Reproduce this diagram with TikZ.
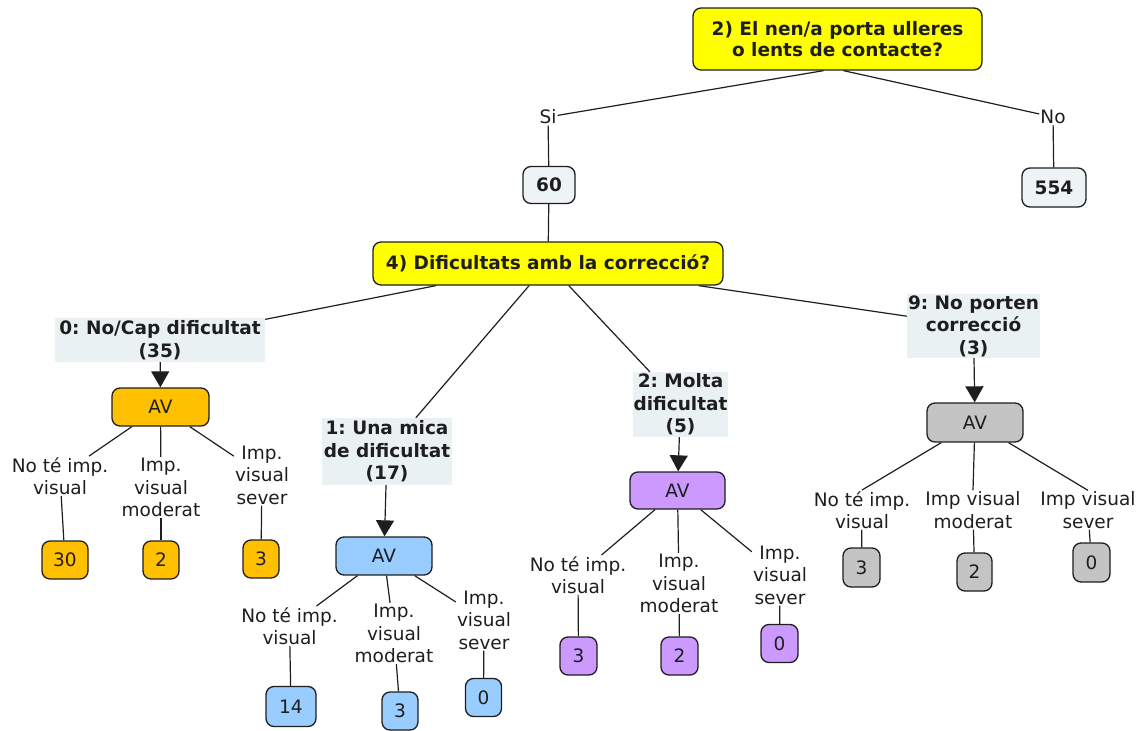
\documentclass[tikz,border=0pt]{standalone}
\usepackage{fontspec}
\setmainfont{DejaVu Sans}
\usetikzlibrary{arrows.meta}
\frenchspacing

\definecolor{qyellow}{HTML}{FFFF00}
\definecolor{cntfill}{HTML}{EEF3F6}
\definecolor{lblfill}{HTML}{EAF1F3}
\definecolor{avorange}{HTML}{FFC000}
\definecolor{avblue}{HTML}{99CCFF}
\definecolor{avpurple}{HTML}{CC99FF}
\definecolor{avgray}{HTML}{C4C4C4}
\definecolor{ink}{HTML}{1E1E1E}

\begin{document}
\begin{tikzpicture}[x=1pt, y=-1pt,
  every node/.style={font=\fontsize{18.5}{22.5}\selectfont, text=ink},
  box/.style={draw=ink, line width=1.3pt, rounded corners=8pt, inner sep=0pt, align=center},
  question/.style={box, fill=qyellow, font=\fontsize{18.5}{21.5}\selectfont\bfseries},
  countbox/.style={box, fill=cntfill, font=\fontsize{18.5}{22.5}\selectfont\bfseries},
  catlabel/.style={fill=lblfill, inner sep=0pt, align=center, font=\fontsize{18.5}{22.5}\selectfont\bfseries},
  avbox/.style={box, minimum width=96pt, minimum height=38pt},
  numbox/.style={box, minimum width=36pt, minimum height=38pt},
  txt/.style={inner sep=1pt, align=center},
  link/.style={draw=ink, line width=1.2pt},
  arr/.style={link, -{Triangle[length=16pt, width=18pt]}}
]
\useasboundingbox (0,0) rectangle (1144,731);

% questions and totals
\node[question, minimum width=289pt, minimum height=62pt] (q2) at (837.5,39) {2) El nen/a porta ulleres\\o lents de contacte?};
\node[txt] (si) at (548,117) {Si};
\node[txt] (no) at (1053,117) {No};
\node[countbox, minimum width=52pt, minimum height=37pt] (n60) at (549,185) {60};
\node[countbox, minimum width=64pt, minimum height=39pt] (n554) at (1054,187.5) {554};
\node[question, minimum width=350pt, minimum height=43pt] (q4) at (548,263.5) {4) Dificultats amb la correcció?};

% answer categories
\node[catlabel, minimum width=210pt, minimum height=44pt] (l0) at (160,340) {0: No/Cap dificultat\\(35)};
\node[catlabel, minimum width=130pt, minimum height=67pt] (l1) at (387,451.5) {1: Una mica\\de dificultat\\(17)};
\node[catlabel, minimum width=95pt, minimum height=65pt] (l2) at (680.5,404.5) {2: Molta\\dificultat\\(5)};
\node[catlabel, minimum width=133pt, minimum height=64pt] (l9) at (973.5,326) {9: No porten\\correcció\\(3)};

% AV boxes
\node[avbox, fill=avorange, minimum width=97pt] (av0) at (160.5,407) {AV};
\node[avbox, fill=avblue] (av1) at (384,556) {AV};
\node[avbox, fill=avpurple, minimum width=95pt, minimum height=37pt] (av2) at (677.5,490.5) {AV};
\node[avbox, fill=avgray, minimum height=39pt] (av9) at (975,422.5) {AV};

% visual impairment labels
\node[txt] (oa) at (60,476) {No té imp.\\visual};
\node[txt] (ob) at (161,487.5) {Imp.\\visual\\moderat};
\node[txt] (oc) at (262,475) {Imp.\\visual\\sever};
\node[txt] (ba) at (289.5,626) {No té imp.\\visual};
\node[txt] (bb) at (394,633.5) {Imp.\\visual\\moderat};
\node[txt] (bc) at (484,620) {Imp.\\visual\\sever};
\node[txt] (pa) at (578,575) {No té imp.\\visual};
\node[txt] (pb) at (679,583.5) {Imp.\\visual\\moderat};
\node[txt] (pc) at (780,575) {Imp.\\visual\\sever};
\node[txt] (ga) at (862,510) {No té imp.\\visual};
\node[txt] (gb) at (973,510) {Imp visual\\moderat};
\node[txt] (gc) at (1088,510) {Imp visual\\sever};

% counts
\node[numbox, fill=avorange, minimum width=46pt] (on1) at (65,560) {30};
\node[numbox, fill=avorange] (on2) at (161,560) {2};
\node[numbox, fill=avorange] (on3) at (261,559) {3};
\node[numbox, fill=avblue, minimum width=50pt, minimum height=40pt] (bn1) at (291,706.5) {14};
\node[numbox, fill=avblue] (bn2) at (400,711) {3};
\node[numbox, fill=avblue] (bn3) at (483.5,697.5) {0};
\node[numbox, fill=avpurple, minimum width=37pt] (pn1) at (578.5,656) {3};
\node[numbox, fill=avpurple, minimum width=37pt] (pn2) at (679.5,656) {2};
\node[numbox, fill=avpurple, minimum width=37pt] (pn3) at (779.5,643.5) {0};
\node[numbox, fill=avgray, minimum width=37pt, minimum height=39pt] (gn1) at (861.5,567.5) {3};
\node[numbox, fill=avgray, minimum width=35pt] (gn2) at (974.5,572) {2};
\node[numbox, fill=avgray, minimum width=37pt, minimum height=39pt] (gn3) at (1091.5,562.5) {0};

% connectors
\draw[link] ([xshift=-14pt]q2.south) -- (si);
\draw[link] ([xshift=6pt]q2.south) -- (no);
\draw[link] (si) -- (n60);
\draw[link] (no) -- (n554);
\draw[link] (n60) -- (q4);
\foreach \c in {l0,l1,l2,l9} \draw[link] (q4) -- (\c);
\draw[arr] (l0) -- (av0);
\draw[arr] (l1) -- (av1);
\draw[arr] (l2) -- (av2);
\draw[arr] (l9) -- (av9);
\foreach \s/\p in {o/av0, b/av1, p/av2} {
  \draw[link] (\p) -- (\s a);
  \draw[link] (\p) -- (\s b);
  \draw[link] (\p) -- (\s c);
}
\draw[link] (av9) -- (ga.north);
\draw[link] (av9) -- (gb.north);
\draw[link] (av9) -- (gc.north);
\foreach \s in {o,b,p,g} {
  \draw[link] (\s a) -- (\s n1);
  \draw[link] (\s b) -- (\s n2);
  \draw[link] (\s c) -- (\s n3);
}
\end{tikzpicture}
\end{document}
